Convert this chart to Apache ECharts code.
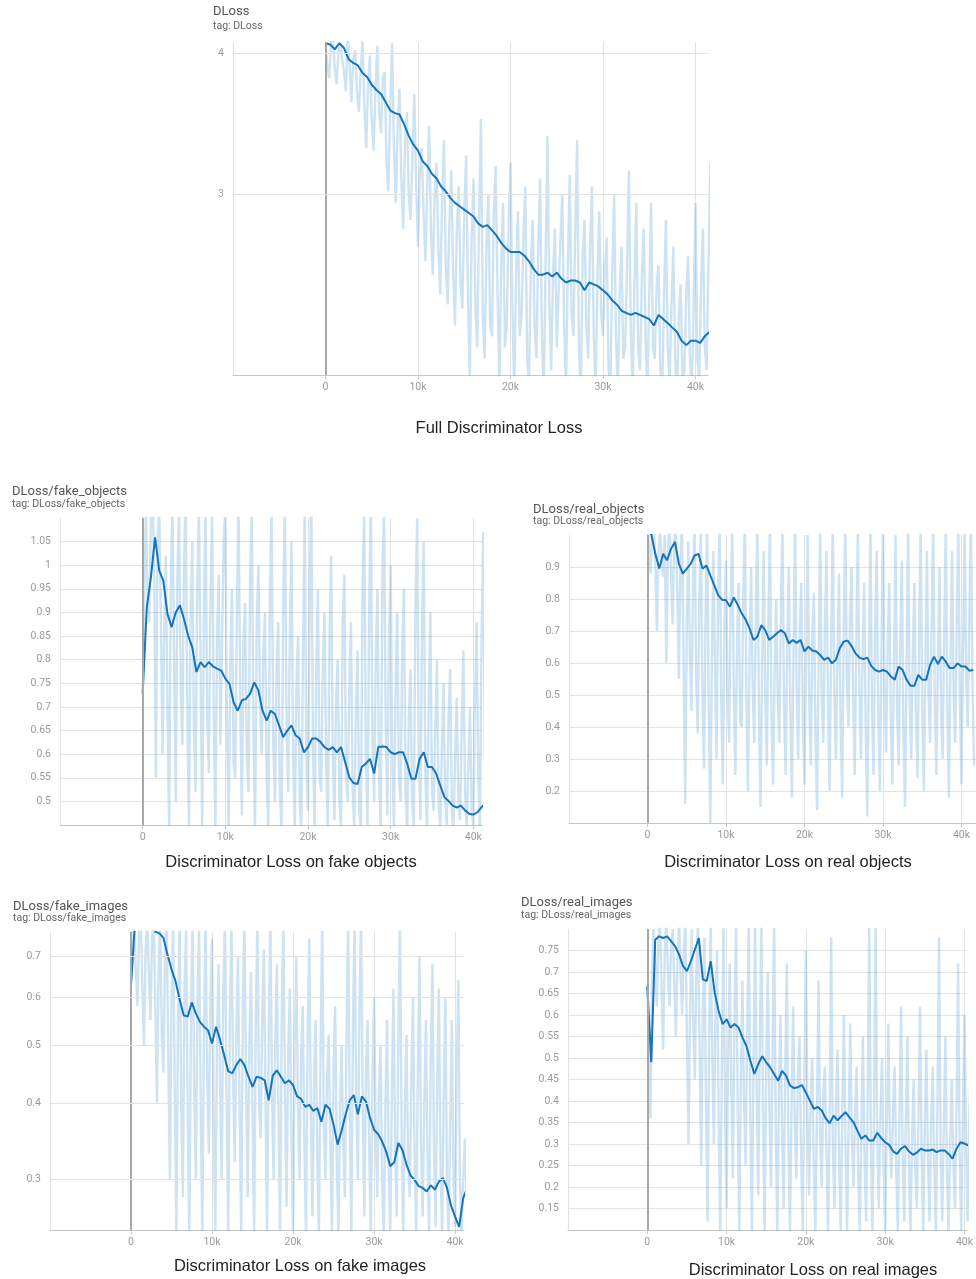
<!DOCTYPE html>
<html>
<head>
<meta charset="utf-8">
<title>Discriminator Loss</title>
<script src="https://cdn.jsdelivr.net/npm/echarts@6/dist/echarts.min.js"></script>
<style>
    html, body { margin: 0; padding: 0; background: #fff; }
    #chart { width: 976px; height: 1279px; }
</style>
</head>
<body>
<div id="chart"></div>
<script>
// steps shared by all runs
var smoothSteps = [
    0, 500, 1000, 1500, 2000, 2500, 3000, 3500, 4000, 4500,
    5000, 5500, 6000, 6500, 7000, 7500, 8000, 8500, 9000, 9500,
    10000, 10500, 11000, 11500, 12000, 12500, 13000, 13500, 14000, 14500,
    15000, 15500, 16000, 16500, 17000, 17500, 18000, 18500, 19000, 19500,
    20000, 20500, 21000, 21500, 22000, 22500, 23000, 23500, 24000, 24500,
    25000, 25500, 26000, 26500, 27000, 27500, 28000, 28500, 29000, 29500,
    30000, 30500, 31000, 31500, 32000, 32500, 33000, 33500, 34000, 34500,
    35000, 35500, 36000, 36500, 37000, 37500, 38000, 38500, 39000, 39500,
    40000, 40500, 41000, 41500
];
var rawSteps = [
    0, 200, 400, 600, 800, 1000, 1200, 1400, 1600, 1800,
    2000, 2200, 2400, 2600, 2800, 3000, 3200, 3400, 3600, 3800,
    4000, 4200, 4400, 4600, 4800, 5000, 5200, 5400, 5600, 5800,
    6000, 6200, 6400, 6600, 6800, 7000, 7200, 7400, 7600, 7800,
    8000, 8200, 8400, 8600, 8800, 9000, 9200, 9400, 9600, 9800,
    10000, 10200, 10400, 10600, 10800, 11000, 11200, 11400, 11600, 11800,
    12000, 12200, 12400, 12600, 12800, 13000, 13200, 13400, 13600, 13800,
    14000, 14200, 14400, 14600, 14800, 15000, 15200, 15400, 15600, 15800,
    16000, 16200, 16400, 16600, 16800, 17000, 17200, 17400, 17600, 17800,
    18000, 18200, 18400, 18600, 18800, 19000, 19200, 19400, 19600, 19800,
    20000, 20200, 20400, 20600, 20800, 21000, 21200, 21400, 21600, 21800,
    22000, 22200, 22400, 22600, 22800, 23000, 23200, 23400, 23600, 23800,
    24000, 24200, 24400, 24600, 24800, 25000, 25200, 25400, 25600, 25800,
    26000, 26200, 26400, 26600, 26800, 27000, 27200, 27400, 27600, 27800,
    28000, 28200, 28400, 28600, 28800, 29000, 29200, 29400, 29600, 29800,
    30000, 30200, 30400, 30600, 30800, 31000, 31200, 31400, 31600, 31800,
    32000, 32200, 32400, 32600, 32800, 33000, 33200, 33400, 33600, 33800,
    34000, 34200, 34400, 34600, 34800, 35000, 35200, 35400, 35600, 35800,
    36000, 36200, 36400, 36600, 36800, 37000, 37200, 37400, 37600, 37800,
    38000, 38200, 38400, 38600, 38800, 39000, 39200, 39400, 39600, 39800,
    40000, 40200, 40400, 40600, 40800, 41000, 41200, 41400, 41600
];

// DLoss
var dlossSmooth = [
    4.08, 4.07, 4.03, 4.08, 4.04, 3.95, 3.92, 3.90, 3.84, 3.81,
    3.75, 3.71, 3.68, 3.62, 3.56, 3.54, 3.53, 3.46, 3.38, 3.32,
    3.28, 3.21, 3.18, 3.13, 3.10, 3.05, 3.02, 2.98, 2.95, 2.93,
    2.91, 2.89, 2.87, 2.83, 2.81, 2.82, 2.79, 2.76, 2.72, 2.69,
    2.67, 2.67, 2.67, 2.65, 2.62, 2.58, 2.55, 2.55, 2.56, 2.54,
    2.56, 2.53, 2.51, 2.52, 2.52, 2.51, 2.47, 2.51, 2.50, 2.49,
    2.47, 2.45, 2.42, 2.40, 2.37, 2.36, 2.35, 2.36, 2.35, 2.34,
    2.33, 2.30, 2.35, 2.33, 2.31, 2.29, 2.27, 2.23, 2.21, 2.23,
    2.23, 2.22, 2.25, 2.27
];
var dlossRaw = [
    4.05, 3.90, 3.80, 4.10, 4.12, 3.88, 3.75, 4.00, 4.08, 3.95,
    3.85, 3.70, 4.15, 3.92, 3.62, 3.95, 4.02, 3.70, 3.55, 3.85,
    4.10, 3.60, 3.30, 3.75, 3.98, 3.50, 3.28, 3.70, 4.06, 3.55,
    3.40, 3.80, 3.85, 3.20, 3.02, 3.60, 4.08, 3.30, 2.95, 3.45,
    3.72, 3.10, 2.80, 3.35, 3.55, 3.00, 2.85, 3.25, 3.68, 3.05,
    2.70, 3.15, 3.30, 2.90, 2.62, 3.05, 3.45, 2.80, 2.55, 3.00,
    3.20, 2.70, 2.45, 2.95, 3.35, 2.60, 2.40, 2.85, 3.15, 2.55,
    2.30, 2.80, 3.05, 2.50, 2.38, 2.90, 3.25, 2.45, 2.05, 2.75,
    3.10, 2.40, 2.20, 2.85, 3.50, 2.35, 2.15, 2.70, 3.00, 2.30,
    2.25, 2.90, 3.18, 2.45, 2.05, 2.60, 2.95, 2.20, 2.30, 2.85,
    3.20, 2.40, 2.00, 2.55, 2.90, 2.25, 2.35, 2.75, 3.05, 2.15,
    2.05, 2.60, 2.85, 2.30, 2.15, 2.70, 3.10, 2.25, 2.00, 2.65,
    3.38, 2.40, 2.10, 2.55, 2.80, 2.20, 2.20, 2.75, 3.00, 2.30,
    2.02, 2.60, 3.12, 2.35, 2.25, 2.80, 3.35, 2.20, 2.00, 2.65,
    2.85, 2.30, 2.15, 2.70, 3.05, 2.25, 2.00, 2.55, 2.90, 2.35,
    2.25, 2.60, 2.75, 2.10, 2.05, 2.55, 3.00, 2.25, 2.00, 2.45,
    2.70, 2.15, 2.20, 2.60, 3.15, 2.30, 2.00, 2.50, 2.95, 2.20,
    2.10, 2.55, 2.80, 2.25, 2.00, 2.45, 2.95, 2.20, 2.15, 2.50,
    2.60, 2.10, 2.00, 2.45, 2.85, 2.20, 2.05, 2.40, 2.70, 2.15,
    2.00, 2.35, 2.50, 2.05, 2.10, 2.45, 2.65, 2.15, 2.00, 2.40,
    2.95, 2.15, 2.05, 2.50, 2.80, 2.20, 2.10, 2.60, 3.20
];
var dlossTicks = [3, 4];

// DLoss/fake_objects
var fakeObjSmooth = [
    0.728, 0.911, 0.975, 1.059, 0.989, 0.967, 0.897, 0.869, 0.900, 0.915,
    0.886, 0.851, 0.826, 0.774, 0.795, 0.784, 0.795, 0.786, 0.781, 0.777,
    0.760, 0.749, 0.710, 0.692, 0.714, 0.717, 0.728, 0.752, 0.735, 0.692,
    0.671, 0.692, 0.685, 0.661, 0.636, 0.650, 0.661, 0.640, 0.633, 0.604,
    0.615, 0.633, 0.633, 0.626, 0.615, 0.609, 0.615, 0.604, 0.615, 0.583,
    0.551, 0.539, 0.537, 0.573, 0.580, 0.590, 0.559, 0.615, 0.616, 0.615,
    0.604, 0.600, 0.604, 0.604, 0.580, 0.548, 0.548, 0.590, 0.604, 0.573,
    0.573, 0.559, 0.534, 0.509, 0.501, 0.491, 0.487, 0.491, 0.481, 0.474,
    0.472, 0.477, 0.488, 0.495
];
var fakeObjRaw = [
    0.73, 0.95, 1.12, 0.92, 0.88, 1.10, 1.15, 0.98, 0.55, 1.05,
    1.12, 0.90, 0.60, 0.85, 1.02, 0.70, 0.44, 0.95, 1.15, 0.80,
    0.50, 0.98, 1.12, 0.75, 0.62, 1.00, 1.15, 0.70, 0.44, 0.90,
    1.05, 0.65, 0.52, 0.95, 1.12, 0.80, 0.44, 0.88, 1.15, 0.68,
    0.56, 0.92, 1.12, 0.70, 0.44, 0.85, 0.98, 0.62, 0.62, 1.05,
    1.12, 0.66, 0.44, 0.80, 0.95, 0.58, 0.55, 0.90, 1.15, 0.72,
    0.47, 0.85, 0.92, 0.60, 0.52, 0.98, 1.12, 0.65, 0.44, 0.88,
    1.00, 0.70, 0.60, 0.82, 0.90, 0.55, 0.44, 0.95, 1.12, 0.62,
    0.50, 0.78, 0.88, 0.52, 0.44, 0.90, 1.15, 0.68, 0.52, 0.85,
    1.05, 0.60, 0.44, 0.75, 0.85, 0.50, 0.44, 0.82, 1.12, 0.58,
    0.48, 0.95, 1.15, 0.62, 0.44, 0.78, 0.95, 0.55, 0.52, 0.80,
    0.90, 0.58, 0.44, 0.85, 1.02, 0.60, 0.46, 0.72, 0.80, 0.50,
    0.44, 0.88, 0.98, 0.55, 0.50, 0.75, 0.88, 0.52, 0.44, 0.70,
    0.82, 0.48, 0.44, 0.95, 1.12, 0.60, 0.45, 0.90, 1.15, 0.62,
    0.50, 0.80, 0.95, 0.55, 0.44, 0.98, 1.12, 0.66, 0.47, 0.85,
    1.00, 0.58, 0.44, 0.75, 0.90, 0.55, 0.50, 0.82, 0.95, 0.52,
    0.44, 0.68, 0.78, 0.50, 0.44, 0.92, 1.10, 0.60, 0.46, 0.88,
    1.05, 0.55, 0.44, 0.70, 0.90, 0.52, 0.48, 0.66, 0.80, 0.50,
    0.44, 0.62, 0.75, 0.50, 0.45, 0.68, 0.78, 0.48, 0.44, 0.60,
    0.72, 0.50, 0.46, 0.66, 0.82, 0.52, 0.44, 0.58, 0.70, 0.48,
    0.45, 0.72, 0.88, 0.55, 0.44, 0.85, 1.07, 0.60, 0.50
];

// DLoss/real_objects
var realObjSmooth = [
    1.02, 1.00, 0.941, 0.895, 0.941, 0.921, 0.957, 0.978, 0.910, 0.879,
    0.895, 0.910, 0.936, 0.941, 0.895, 0.905, 0.874, 0.843, 0.812, 0.798,
    0.796, 0.776, 0.805, 0.781, 0.755, 0.736, 0.708, 0.672, 0.682, 0.718,
    0.703, 0.672, 0.682, 0.693, 0.703, 0.693, 0.661, 0.672, 0.663, 0.672,
    0.636, 0.651, 0.639, 0.636, 0.625, 0.610, 0.617, 0.599, 0.610, 0.646,
    0.667, 0.670, 0.653, 0.630, 0.617, 0.612, 0.617, 0.591, 0.578, 0.573,
    0.578, 0.573, 0.558, 0.548, 0.589, 0.578, 0.548, 0.529, 0.529, 0.563,
    0.548, 0.548, 0.594, 0.620, 0.597, 0.620, 0.604, 0.584, 0.584, 0.599,
    0.589, 0.589, 0.576, 0.578
];
var realObjRaw = [
    1.05, 0.95, 0.88, 1.02, 1.05, 0.90, 0.70, 0.96, 1.02, 0.92,
    0.87, 1.00, 0.60, 0.95, 1.05, 0.88, 0.72, 0.98, 1.03, 0.82,
    0.55, 0.92, 1.05, 0.60, 0.16, 0.70, 0.98, 0.62, 0.45, 0.85,
    1.05, 0.55, 0.38, 0.80, 1.02, 0.50, 0.27, 0.75, 1.05, 0.45,
    0.10, 0.60, 0.95, 0.58, 0.30, 0.82, 1.05, 0.48, 0.22, 0.70,
    0.92, 0.52, 0.35, 0.78, 1.04, 0.50, 0.25, 0.66, 0.85, 0.42,
    0.40, 0.80, 1.05, 0.48, 0.20, 0.62, 0.90, 0.52, 0.35, 0.75,
    1.05, 0.45, 0.15, 0.60, 0.95, 0.50, 0.28, 0.72, 1.05, 0.42,
    0.22, 0.58, 0.80, 0.48, 0.35, 0.78, 1.04, 0.46, 0.25, 0.66,
    0.90, 0.45, 0.18, 0.62, 1.05, 0.52, 0.30, 0.70, 0.85, 0.40,
    0.22, 0.62, 1.00, 0.50, 0.28, 0.68, 0.82, 0.38, 0.14, 0.60,
    1.05, 0.48, 0.35, 0.72, 0.95, 0.45, 0.20, 0.66, 1.05, 0.50,
    0.30, 0.62, 0.88, 0.42, 0.18, 0.70, 1.05, 0.55, 0.40, 0.75,
    0.90, 0.48, 0.25, 0.66, 1.02, 0.50, 0.30, 0.62, 0.85, 0.40,
    0.12, 0.58, 1.05, 0.46, 0.25, 0.70, 0.95, 0.44, 0.20, 0.62,
    1.05, 0.50, 0.32, 0.66, 0.85, 0.42, 0.22, 0.60, 1.00, 0.45,
    0.28, 0.66, 0.92, 0.40, 0.15, 0.58, 1.05, 0.48, 0.30, 0.62,
    0.85, 0.42, 0.24, 0.66, 1.05, 0.46, 0.20, 0.58, 0.95, 0.50,
    0.35, 0.72, 1.05, 0.48, 0.25, 0.62, 0.90, 0.45, 0.30, 0.70,
    1.05, 0.46, 0.18, 0.60, 0.95, 0.50, 0.35, 0.72, 1.05, 0.48,
    0.22, 0.64, 1.02, 0.55, 0.40, 0.75, 1.05, 0.52, 0.28
];

// DLoss/fake_images
var fakeImgSmooth = [
    0.63, 0.80, 0.82, 0.82, 0.81, 0.79, 0.77, 0.765, 0.752, 0.706,
    0.667, 0.637, 0.595, 0.560, 0.557, 0.588, 0.564, 0.546, 0.536, 0.529,
    0.503, 0.536, 0.509, 0.481, 0.452, 0.449, 0.463, 0.474, 0.463, 0.443,
    0.426, 0.443, 0.441, 0.437, 0.405, 0.445, 0.454, 0.443, 0.432, 0.437,
    0.429, 0.411, 0.407, 0.395, 0.398, 0.389, 0.393, 0.373, 0.398, 0.392,
    0.369, 0.342, 0.361, 0.384, 0.405, 0.413, 0.384, 0.411, 0.403, 0.379,
    0.362, 0.356, 0.346, 0.333, 0.315, 0.320, 0.344, 0.335, 0.317, 0.304,
    0.299, 0.292, 0.290, 0.286, 0.293, 0.288, 0.297, 0.301, 0.290, 0.271,
    0.260, 0.250, 0.279, 0.290
];
var fakeImgRaw = [
    0.63, 0.72, 0.80, 0.66, 0.58, 0.78, 0.82, 0.62, 0.50, 0.72,
    0.80, 0.66, 0.55, 0.75, 0.82, 0.58, 0.40, 0.66, 0.80, 0.52,
    0.45, 0.70, 0.82, 0.48, 0.30, 0.60, 0.80, 0.42, 0.24, 0.55,
    0.82, 0.40, 0.28, 0.62, 0.78, 0.38, 0.24, 0.55, 0.82, 0.42,
    0.30, 0.58, 0.80, 0.40, 0.24, 0.52, 0.82, 0.45, 0.33, 0.60,
    0.75, 0.38, 0.24, 0.50, 0.68, 0.42, 0.30, 0.62, 0.82, 0.40,
    0.24, 0.55, 0.80, 0.44, 0.32, 0.52, 0.70, 0.40, 0.24, 0.58,
    0.82, 0.42, 0.28, 0.50, 0.66, 0.38, 0.24, 0.55, 0.82, 0.40,
    0.35, 0.56, 0.72, 0.40, 0.24, 0.52, 0.82, 0.42, 0.30, 0.50,
    0.68, 0.38, 0.24, 0.55, 0.82, 0.42, 0.27, 0.48, 0.62, 0.36,
    0.24, 0.50, 0.70, 0.40, 0.30, 0.48, 0.58, 0.34, 0.24, 0.52,
    0.75, 0.38, 0.26, 0.45, 0.55, 0.32, 0.24, 0.50, 0.82, 0.36,
    0.30, 0.44, 0.52, 0.34, 0.24, 0.46, 0.58, 0.32, 0.24, 0.40,
    0.50, 0.34, 0.28, 0.52, 0.82, 0.38, 0.24, 0.55, 0.80, 0.40,
    0.30, 0.58, 0.82, 0.40, 0.26, 0.45, 0.55, 0.34, 0.24, 0.44,
    0.60, 0.36, 0.28, 0.42, 0.50, 0.30, 0.24, 0.40, 0.55, 0.32,
    0.24, 0.42, 0.62, 0.34, 0.26, 0.52, 0.82, 0.36, 0.24, 0.40,
    0.52, 0.32, 0.28, 0.44, 0.60, 0.33, 0.24, 0.45, 0.70, 0.34,
    0.26, 0.40, 0.55, 0.32, 0.24, 0.48, 0.68, 0.33, 0.25, 0.44,
    0.62, 0.32, 0.24, 0.42, 0.60, 0.30, 0.24, 0.38, 0.55, 0.30,
    0.25, 0.45, 0.64, 0.30, 0.24, 0.30, 0.35, 0.28, 0.30
];
var fakeImgTicks = [0.3, 0.4, 0.5, 0.6, 0.7];

// DLoss/real_images
var realImgSmooth = [
    0.667, 0.49, 0.775, 0.783, 0.779, 0.783, 0.772, 0.760, 0.741, 0.714,
    0.702, 0.725, 0.752, 0.779, 0.683, 0.679, 0.725, 0.652, 0.609, 0.579,
    0.590, 0.571, 0.579, 0.571, 0.548, 0.528, 0.494, 0.463, 0.486, 0.504,
    0.490, 0.478, 0.463, 0.447, 0.470, 0.459, 0.436, 0.430, 0.432, 0.437,
    0.420, 0.401, 0.382, 0.386, 0.378, 0.360, 0.348, 0.366, 0.355, 0.365,
    0.374, 0.362, 0.351, 0.331, 0.312, 0.320, 0.308, 0.308, 0.326, 0.314,
    0.304, 0.298, 0.283, 0.277, 0.289, 0.295, 0.283, 0.275, 0.280, 0.289,
    0.285, 0.285, 0.287, 0.281, 0.285, 0.285, 0.277, 0.266, 0.289, 0.304,
    0.301, 0.297, 0.298, 0.301
];
var realImgRaw = [
    0.67, 0.50, 0.36, 0.70, 0.80, 0.72, 0.62, 0.78, 0.82, 0.66,
    0.52, 0.75, 0.82, 0.70, 0.62, 0.76, 0.80, 0.68, 0.55, 0.72,
    0.82, 0.70, 0.60, 0.75, 0.82, 0.55, 0.30, 0.62, 0.80, 0.58,
    0.45, 0.72, 0.82, 0.52, 0.25, 0.60, 0.78, 0.40, 0.12, 0.55,
    0.82, 0.50, 0.30, 0.62, 0.75, 0.35, 0.09, 0.48, 0.82, 0.40,
    0.15, 0.50, 0.72, 0.42, 0.22, 0.60, 0.82, 0.38, 0.09, 0.45,
    0.68, 0.40, 0.25, 0.55, 0.82, 0.35, 0.09, 0.50, 0.82, 0.42,
    0.18, 0.55, 0.82, 0.36, 0.09, 0.48, 0.70, 0.38, 0.20, 0.52,
    0.82, 0.34, 0.09, 0.42, 0.60, 0.32, 0.15, 0.48, 0.72, 0.30,
    0.09, 0.40, 0.62, 0.35, 0.22, 0.46, 0.55, 0.28, 0.09, 0.42,
    0.75, 0.36, 0.18, 0.40, 0.50, 0.25, 0.09, 0.38, 0.68, 0.32,
    0.20, 0.42, 0.48, 0.28, 0.09, 0.36, 0.78, 0.30, 0.15, 0.40,
    0.52, 0.26, 0.09, 0.38, 0.60, 0.30, 0.09, 0.35, 0.58, 0.32,
    0.20, 0.36, 0.48, 0.24, 0.09, 0.34, 0.55, 0.26, 0.12, 0.40,
    0.82, 0.30, 0.09, 0.38, 0.82, 0.32, 0.15, 0.36, 0.50, 0.25,
    0.09, 0.34, 0.58, 0.30, 0.22, 0.38, 0.48, 0.24, 0.09, 0.36,
    0.62, 0.28, 0.12, 0.34, 0.55, 0.26, 0.09, 0.32, 0.45, 0.24,
    0.15, 0.36, 0.62, 0.28, 0.09, 0.34, 0.52, 0.26, 0.12, 0.35,
    0.48, 0.25, 0.09, 0.40, 0.78, 0.28, 0.12, 0.34, 0.55, 0.24,
    0.09, 0.30, 0.45, 0.26, 0.15, 0.38, 0.72, 0.28, 0.09, 0.36,
    0.60, 0.30, 0.12, 0.36, 0.50, 0.28, 0.09, 0.40, 0.68
];

(function () {
    'use strict';

    var smoothColor = '#1574bb';
    var rawColor = 'rgba(98, 169, 218, 0.32)';
    var gridColor = '#e2e2e2';
    var axisColor = '#c8c8c8';
    var labelColor = '#9a9a9a';

    var panels = [
        {
            name: 'DLoss', caption: 'Full Discriminator Loss',
            raw: dlossRaw, smooth: dlossSmooth, logTicks: dlossTicks,
            grid: { left: 233, top: 42, width: 475, height: 333 },
            xMax: 41350, yMin: 2.08, yMax: 4.09,
            titlePos: [213, 12, 26], captionPos: [499, 428]
        },
        {
            name: 'DLoss/fake_objects', caption: 'Discriminator Loss on fake objects',
            raw: fakeObjRaw, smooth: fakeObjSmooth,
            grid: { left: 60, top: 518, width: 422, height: 307 },
            xMax: 41050, yMin: 0.45, yMax: 1.1, yInterval: 0.05,
            titlePos: [12, 492, 504], captionPos: [291, 862]
        },
        {
            name: 'DLoss/real_objects', caption: 'Discriminator Loss on real objects',
            raw: realObjRaw, smooth: realObjSmooth,
            grid: { left: 569, top: 535, width: 407, height: 288 },
            xMax: 41850, yMin: 0.1, yMax: 1.0, yInterval: 0.1,
            titlePos: [533, 510, 521], captionPos: [788, 862]
        },
        {
            name: 'DLoss/fake_images', caption: 'Discriminator Loss on fake images',
            raw: fakeImgRaw, smooth: fakeImgSmooth, logTicks: fakeImgTicks,
            grid: { left: 50, top: 932, width: 414, height: 298 },
            xMax: 41100, yMin: 0.247, yMax: 0.769,
            titlePos: [13, 907, 918], captionPos: [300, 1266]
        },
        {
            name: 'DLoss/real_images', caption: 'Discriminator Loss on real images',
            raw: realImgRaw, smooth: realImgSmooth,
            grid: { left: 568, top: 929, width: 408, height: 301 },
            xMax: 40300, yMin: 0.1, yMax: 0.8, yInterval: 0.05,
            titlePos: [521, 903, 915], captionPos: [813, 1270]
        }
    ];

    var pairs = function (steps, values) {
        return values.map(function (v, i) {
            return [steps[i], v];
        });
    };

    var stepLabel = function (v) {
        return v === 0 ? '0' : (v / 1000) + 'k';
    };

    var grids = [], xAxes = [], yAxes = [], series = [], graphics = [];

    panels.forEach(function (p, i) {
        grids.push(p.grid);

        xAxes.push({
            type: 'value',
            gridIndex: i,
            min: -10000,
            max: p.xMax,
            interval: 10000,
            axisLine: { show: true, lineStyle: { color: axisColor } },
            axisTick: { show: true, length: 4, lineStyle: { color: axisColor } },
            axisLabel: {
                color: labelColor, fontSize: 10.5, fontFamily: 'Roboto', margin: 7,
                showMinLabel: false, showMaxLabel: false,
                formatter: stepLabel
            },
            splitLine: { show: true, showMaxLine: false, lineStyle: { color: gridColor } }
        });

        var yAxis = {
            type: p.logTicks ? 'log' : 'value',
            gridIndex: i,
            min: p.yMin,
            max: p.yMax,
            axisLine: { show: true, lineStyle: { color: axisColor } },
            axisTick: { show: false }
        };
        if (p.logTicks) {
            yAxis.axisLabel = { show: false };
            yAxis.splitLine = { show: false };
        } else {
            yAxis.interval = p.yInterval;
            yAxis.axisLabel = {
                color: labelColor, fontSize: 10.5, fontFamily: 'Roboto', margin: 9,
                showMinLabel: false, showMaxLabel: false
            };
            yAxis.splitLine = { show: true, showMaxLine: false, lineStyle: { color: gridColor } };
        }
        yAxes.push(yAxis);

        // guide lines: darker step-0 line, plus y grid for the log panels
        var guides = [{ xAxis: 0, lineStyle: { color: '#a8a8a8', width: 2 }, label: { show: false } }];
        (p.logTicks || []).forEach(function (v) {
            guides.push({ yAxis: v });
        });

        series.push({
            type: 'line',
            xAxisIndex: i,
            yAxisIndex: i,
            data: [],
            z: 1,
            silent: true,
            markLine: {
                silent: true,
                symbol: 'none',
                animation: false,
                lineStyle: { color: gridColor, width: 1, type: 'solid' },
                label: {
                    position: 'start', color: labelColor, fontSize: 10.5,
                    fontFamily: 'Roboto', distance: 9, formatter: '{c}'
                },
                data: guides
            }
        });

        // raw values: wide pale strokes so the spikes read as a band
        series.push({
            type: 'line',
            xAxisIndex: i,
            yAxisIndex: i,
            data: pairs(rawSteps, p.raw),
            showSymbol: false,
            z: 2,
            animation: false,
            lineStyle: { color: rawColor, width: 2.4, join: 'bevel' }
        });

        series.push({
            type: 'line',
            xAxisIndex: i,
            yAxisIndex: i,
            data: pairs(smoothSteps, p.smooth),
            showSymbol: false,
            z: 3,
            animation: false,
            lineStyle: { color: smoothColor, width: 2 }
        });

        graphics.push({
            type: 'text', x: p.titlePos[0], y: p.titlePos[1],
            style: { text: p.name, fill: '#555', font: '13px Roboto', verticalAlign: 'middle', textVerticalAlign: 'middle' }
        });
        graphics.push({
            type: 'text', x: p.titlePos[0], y: p.titlePos[2],
            style: { text: 'tag: ' + p.name, fill: '#666', font: '10.5px Roboto', verticalAlign: 'middle', textVerticalAlign: 'middle' }
        });
        graphics.push({
            type: 'text', x: p.captionPos[0], y: p.captionPos[1],
            style: {
                text: p.caption, fill: '#222', font: '16.5px "Liberation Sans", Arial, sans-serif',
                align: 'center', textAlign: 'center', verticalAlign: 'middle', textVerticalAlign: 'middle'
            }
        });
    });

    var chart = echarts.init(document.getElementById('chart'));
    chart.setOption({
        backgroundColor: '#fff',
        animation: false,
        grid: grids,
        xAxis: xAxes,
        yAxis: yAxes,
        series: series,
        graphic: graphics
    });
}());
</script>
</body>
</html>
